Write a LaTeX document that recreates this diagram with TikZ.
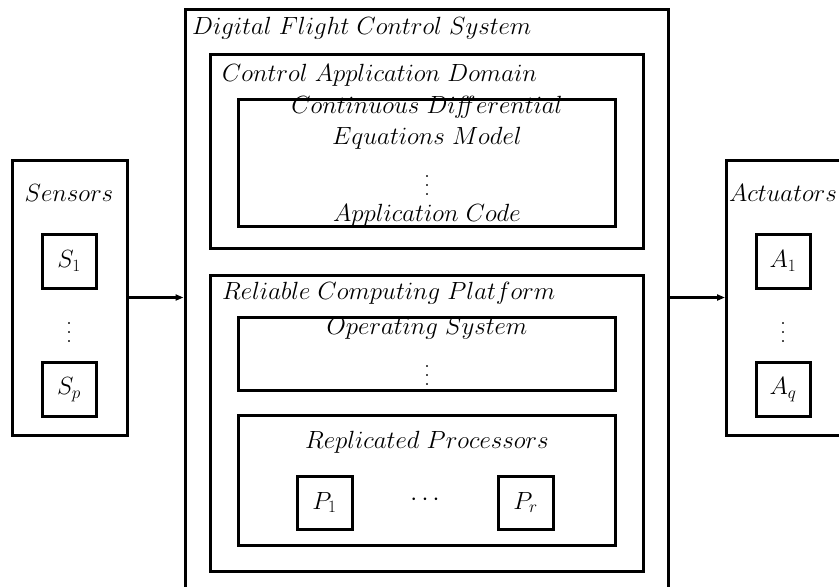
\documentclass[tikz,border=0pt]{standalone}
\usetikzlibrary{arrows.meta}
\newcommand{\myvd}{\vbox{\baselineskip9pt\lineskiplimit0pt\hbox{.}\hbox{.}\hbox{.}}}
\newcommand{\mysub}[1]{_{\hbox{\fontsize{19}{22}\selectfont$#1$}}}
\begin{document}
\begin{tikzpicture}[x=1pt,y=-1pt,
  box/.style={draw,line width=3pt,rectangle,inner sep=0pt},
  lbl/.style={inner sep=0pt,font=\fontsize{24}{28}\selectfont},
  conn/.style={line width=3pt,-{Triangle[length=8pt,width=6pt]}}]
\clip (0,0) rectangle (839,587);
% outer boxes
\node[box,minimum width=115pt,minimum height=275pt] (sens) at (69.5,297.5) {};
\node[box,minimum width=125pt,minimum height=275pt,anchor=west] (act) at (725,297.5) {};
\node[box,minimum width=483pt,minimum height=620pt,anchor=north] (dfcs) at (426.5,8) {};
% sensors
\node[box,minimum width=54pt,minimum height=54pt] (s1) at (69,261) {};
\node[box,minimum width=54pt,minimum height=54pt] (sp) at (69,389.5) {};
\node[lbl] (s1t) at (s1.center) {$S\mysub{1}$};
\node[lbl] (spt) at (sp.center) {$S\mysub{p}$};
\node[lbl] (senst) at (69,193) {$Sensors$};
\node[lbl] (sdots) at (69,333) {\myvd};
% actuators
\node[box,minimum width=54pt,minimum height=54pt] (a1) at (783,261) {};
\node[box,minimum width=54pt,minimum height=54pt] (aq) at (783,389.5) {};
\node[lbl] (a1t) at (a1.center) {$A\mysub{1}$};
\node[lbl] (aqt) at (aq.center) {$A\mysub{q}$};
\node[lbl] (actt) at (783,193) {$Actuators$};
\node[lbl] (adots) at (783,333) {\myvd};
% DFCS
\node[lbl,anchor=west] (dfcst) at (192,28) {$Digital\ Flight\ Control\ System$};
\node[box,minimum width=433pt,minimum height=194pt] (cad) at (426.5,151) {};
\node[lbl,anchor=west] (cadt) at (222,75) {$Control\ Application\ Domain$};
\node[box,minimum width=377pt,minimum height=127pt] (cde) at (426.5,162.5) {};
\node[lbl] (cde1) at (427,107) {$Continuous\ Di\mathit{ff}erential$};
\node[lbl] (cde2) at (427,138) {$Equations\ Model$};
\node[lbl] (cdedots) at (427,186) {\myvd};
\node[lbl] (cde3) at (427,215) {$Application\ Code$};
\node[box,minimum width=433pt,minimum height=296pt] (rcp) at (426.5,423) {};
\node[lbl,anchor=west] (rcpt) at (222,293) {$Reliable\ Computing\ Platform$};
\node[box,minimum width=377pt,minimum height=73pt] (os) at (426.5,353.5) {};
\node[lbl] (ost) at (427,328) {$Operating\ System$};
\node[lbl] (osdots) at (427,376) {\myvd};
\node[box,minimum width=377pt,minimum height=130pt] (rp) at (426.5,480) {};
\node[lbl] (rpt) at (427,442) {$Replicated\ Processors$};
\node[box,minimum width=55pt,minimum height=53pt] (p1) at (324.5,502.5) {};
\node[box,minimum width=55pt,minimum height=53pt] (pr) at (525.5,502.5) {};
\node[lbl] (p1t) at (p1.center) {$P\mysub{1}$};
\node[lbl] (prt) at (pr.center) {$P\mysub{r}$};
\node[lbl] (pdots) at (425,500) {$\cdots$};
% connectors
\draw[conn] (sens.east) -- (sens.east -| dfcs.west);
\draw[conn] (dfcs.east |- act.west) -- (act.west);
\end{tikzpicture}
\end{document}
